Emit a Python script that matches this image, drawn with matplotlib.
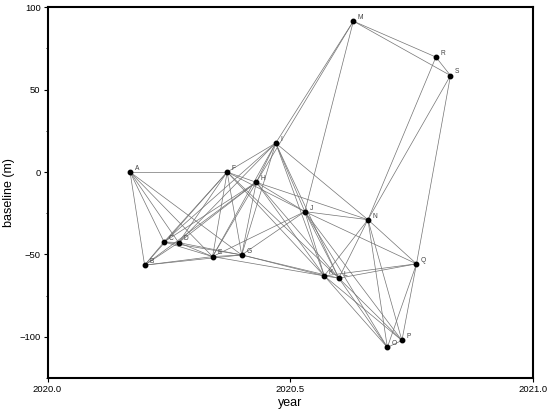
import matplotlib
matplotlib.use('Agg')
import matplotlib.pyplot as plt
from matplotlib.ticker import MultipleLocator, FormatStrFormatter

plt.rcParams['font.family'] = ['Liberation Sans', 'DejaVu Sans']

# acquisitions (decimal year) and perpendicular baseline (m)
names = ['A', 'B', 'C', 'D', 'E', 'F', 'G', 'H', 'I', 'J',
         'K', 'L', 'M', 'N', 'O', 'P', 'Q', 'R', 'S']
dates = [2020.17, 2020.20, 2020.24, 2020.27, 2020.34, 2020.37, 2020.40,
         2020.43, 2020.47, 2020.53, 2020.57, 2020.60, 2020.63, 2020.66,
         2020.70, 2020.73, 2020.76, 2020.80, 2020.83]
baselines = [0, -56.5, -42.4, -42.8, -51.3, 0, -50.3, -6.2, 17.6, -24.0,
             -63.0, -64.4, 91.6, -28.9, -106.4, -102.2, -55.7, 69.8, 58.6]

# interferogram pairs
pairs = ['AB', 'AC', 'AD', 'AE', 'AF', 'AG',
         'BC', 'BD', 'BE', 'BF', 'BG', 'BH',
         'CD', 'CE', 'CF', 'CG', 'CH', 'CI',
         'DE', 'DF', 'DG', 'DH', 'DI',
         'EF', 'EG', 'EH', 'EI', 'EJ', 'EK',
         'FG', 'FH', 'FI', 'FJ', 'FK', 'FL',
         'GH', 'GI', 'GJ', 'GK', 'GL',
         'HI', 'HJ', 'HK', 'HL', 'HM', 'HN',
         'IJ', 'IK', 'IL', 'IM', 'IN',
         'JK', 'JL', 'JM', 'JN', 'JO', 'JP', 'JQ',
         'KL', 'KN', 'KO', 'KP', 'KQ',
         'LN', 'LO', 'LP', 'LQ',
         'MR', 'MS',
         'NO', 'NP', 'NQ', 'NR', 'NS',
         'OP', 'OQ', 'PQ', 'QS', 'RS']

fig = plt.figure(figsize=(5.5, 4.13), dpi=100)
ax = fig.add_axes([0.0864, 0.0847, 0.8827, 0.8976])

idx = {n: i for i, n in enumerate(names)}
for p in pairs:
    i, j = idx[p[0]], idx[p[1]]
    ax.plot([dates[i], dates[j]], [baselines[i], baselines[j]],
            color='0.45', lw=0.5, zorder=1)

ax.plot(dates, baselines, 'o', color='black', markersize=3.2, zorder=3)
for n, x, y in zip(names, dates, baselines):
    ax.annotate(n, (x, y), xytext=(3.3, 2.6), textcoords='offset points',
                fontsize=4.8, color='0.25', ha='left', va='center')

ax.set_xlim(2020.0, 2021.0)
ax.set_ylim(-125, 100)
ax.xaxis.set_major_locator(MultipleLocator(0.5))
ax.xaxis.set_major_formatter(FormatStrFormatter('%.1f'))
ax.yaxis.set_major_locator(MultipleLocator(50))
ax.yaxis.set_minor_locator(MultipleLocator(25))

ax.tick_params(which='major', direction='out', length=3, width=0.8,
               labelsize=6.8, pad=2)
ax.tick_params(which='minor', direction='out', length=1.8, width=0.6)
for s in ax.spines.values():
    s.set_linewidth(1.5)

ax.set_xlabel('year', fontsize=9, labelpad=2)
ax.set_ylabel('baseline (m)', fontsize=9, labelpad=3)

fig.savefig('out.png', dpi=100)
